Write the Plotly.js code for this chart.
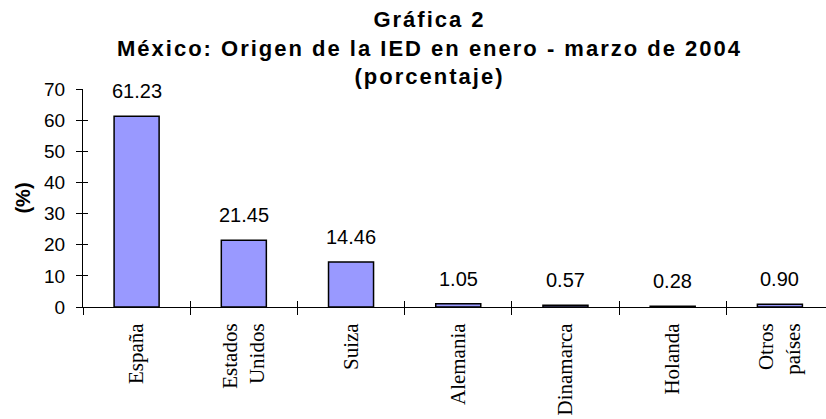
<!DOCTYPE html>
<html>
<head>
<meta charset="utf-8">
<script src="https://cdn.plot.ly/plotly-3.0.1.min.js"></script>
<style>
  html, body { margin: 0; padding: 0; background: #fff; }
  #chart { width: 826px; height: 419px; }
  .gtitle { letter-spacing: 2px; }
</style>
</head>
<body>
<div id="chart"></div>
<script>
// datos
const paises = ['España', 'Estados<br>Unidos', 'Suiza', 'Alemania', 'Dinamarca', 'Holanda', 'Otros<br>países'];
const porcentaje = [61.23, 21.45, 14.46, 1.05, 0.57, 0.28, 0.90];
const etiquetas = ['61.23', '21.45', '14.46', '1.05', '0.57', '0.28', '0.90'];
const yTicks = [0, 10, 20, 30, 40, 50, 60, 70];

const sans = 'Arial, Liberation Sans, sans-serif';

const data = [
  {
    x: paises,
    y: porcentaje,
    type: 'bar',
    width: 0.42,
    marker: { color: '#9999FF', line: { color: '#000', width: 1.5 } },
    hoverinfo: 'none'
  },
  // traza sin marcas, solo para dibujar la otra mitad de las marcas de eje (cruzadas)
  {
    x: paises,
    y: porcentaje,
    type: 'scatter',
    mode: 'none',
    xaxis: 'x2',
    yaxis: 'y2',
    hoverinfo: 'none'
  }
];

// etiquetas de valor encima de cada barra
const annotations = paises.map((p, i) => ({
  x: p,
  y: porcentaje[i],
  text: etiquetas[i],
  showarrow: false,
  yanchor: 'bottom',
  yshift: 12,
  font: { family: sans, size: 20, color: '#000' }
}));

const layout = {
  width: 826,
  height: 419,
  margin: { l: 83, r: 0, t: 89, b: 112 },
  paper_bgcolor: '#fff',
  plot_bgcolor: '#fff',
  showlegend: false,
  font: { family: sans, color: '#000' },
  title: {
    text: '<b>Gráfica 2</b><br><b>México: Origen de la IED en enero - marzo de 2004</b><br><b>(porcentaje)</b>',
    font: { family: sans, size: 22, color: '#000' },
    x: 0.52,
    xref: 'container',
    xanchor: 'center',
    y: 0.935,
    yref: 'container',
    yanchor: 'top'
  },
  xaxis: {
    type: 'category',
    range: [-0.5, 6.43],
    showline: true,
    linecolor: '#000',
    linewidth: 1,
    ticks: 'outside',
    tickson: 'boundaries',
    ticklen: 7,
    tickcolor: '#000',
    tickangle: -90,
    ticklabelstandoff: 7,
    tickfont: { family: 'Liberation Serif, Times New Roman, serif', size: 21, color: '#000' },
    showgrid: false,
    zeroline: false
  },
  xaxis2: {
    type: 'category',
    overlaying: 'x',
    matches: 'x',
    anchor: 'y',
    side: 'bottom',
    showline: false,
    ticks: 'inside',
    tickson: 'boundaries',
    ticklen: 6,
    tickcolor: '#000',
    showticklabels: false,
    showgrid: false,
    zeroline: false
  },
  yaxis: {
    range: [0, 70],
    tickvals: yTicks,
    showline: true,
    linecolor: '#000',
    linewidth: 1,
    ticks: 'outside',
    ticklen: 6,
    tickcolor: '#000',
    ticklabelstandoff: 7,
    tickfont: { family: sans, size: 19, color: '#000' },
    showgrid: false,
    zeroline: false,
    title: {
      text: '<b>(%)</b>',
      font: { family: sans, size: 20, color: '#000' },
      standoff: 8
    }
  },
  yaxis2: {
    overlaying: 'y',
    matches: 'y',
    anchor: 'x',
    side: 'left',
    range: [0, 70],
    tickvals: yTicks,
    showline: false,
    ticks: 'inside',
    ticklen: 5,
    tickcolor: '#000',
    showticklabels: false,
    showgrid: false,
    zeroline: false
  },
  annotations
};

Plotly.newPlot('chart', data, layout, { displayModeBar: false, staticPlot: true });
</script>
</body>
</html>
